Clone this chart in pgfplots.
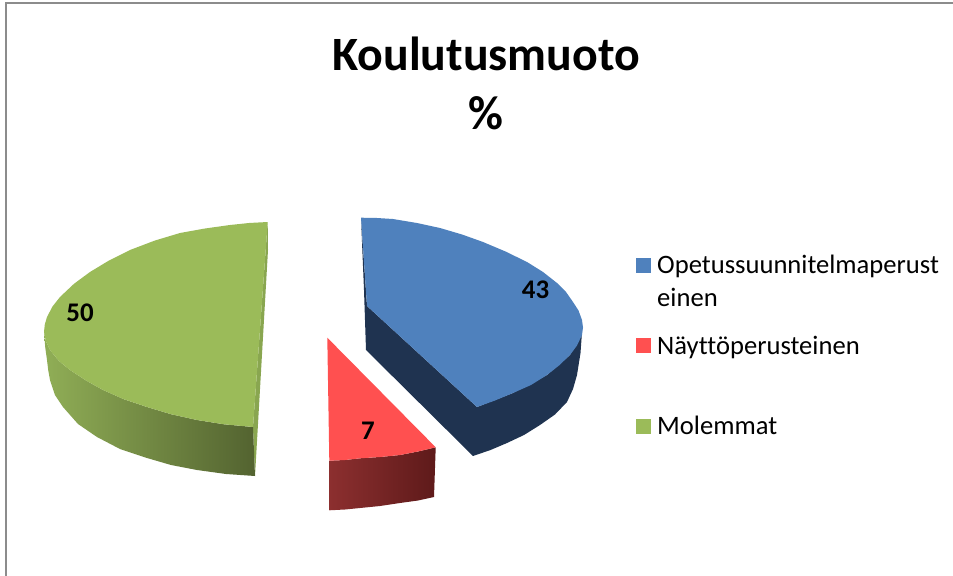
\documentclass[border=0pt]{standalone}
\usepackage{fontspec}
\setmainfont[Ligatures=NoCommon]{Carlito}
\usepackage{pgfplots}
\pgfplotsset{compat=1.18}
\definecolor{pieblue}{HTML}{4F81BD}
\definecolor{pieblueside}{HTML}{1F3350}
\definecolor{piered}{HTML}{FF5050}
\definecolor{pieredL}{HTML}{8C2F2F}
\definecolor{pieredR}{HTML}{5E1A1A}
\definecolor{piegreen}{HTML}{9BBB59}
\definecolor{piegreenL}{HTML}{90AE56}
\definecolor{piegreenR}{HTML}{536330}
\definecolor{piegreenedge}{HTML}{89A650}
\definecolor{framegray}{HTML}{8C8C8C}
\begin{document}
\begin{tikzpicture}
\begin{axis}[
  width=953bp, height=576bp, scale only axis,
  xmin=0, xmax=953, ymin=0, ymax=576, y dir=reverse,
  hide axis, axis background/.style={fill=white},
]
% frame
\addplot[framegray, line width=2bp] coordinates {(6,577) (6,3.5) (954,3.5)};

% green slice (50)
\addplot[fill=piegreenedge, draw=none] coordinates
  {(267.7,222) (268,250) (255,476) (253,427)} -- cycle;
\addplot[left color=piegreenL, right color=piegreenR, draw=none] coordinates
  {(44,332) (46,341.5) (50,350) (59,361) (70,370) (86,380.5) (103,390) (124,399.3)
   (147,407) (171,414.2) (197,420) (224,424.3) (253,427) (255,476)
   (226,474) (197,470) (171,465) (147,458) (120,449) (97,437) (78,424) (63,407)
   (55,395) (50,380) (48.2,370) (47,360) (45.3,348)} -- cycle;
\addplot[fill=piegreen, draw=none] coordinates
  {(267.7,222) (249,223) (230,225) (205,228.5) (180,233) (155,240.5) (130,250)
   (109,260.5) (90,272) (74,283.8) (60,297) (52.5,306.5) (47,317) (44.8,324.5) (44,332)
   (46,341.5) (50,350) (59,361) (70,370) (86,380.5) (103,390) (124,399.3) (147,407)
   (171,414.2) (197,420) (224,424.3) (253,427)} -- cycle;

% blue slice (43)
\addplot[fill=pieblueside, draw=none] coordinates
  {(361,218) (364,290) (366,350) (473,456) (490.5,450) (507,443) (524,435) (540,425)
   (555,414.5) (567,402) (573,389) (577,375) (580.5,353) (582,332)
   (570,355) (547,375) (513,393) (477,407) (367,306)} -- cycle;
\addplot[fill=pieblue, draw=none] coordinates
  {(361,217.7) (377,218) (393,219) (417,223) (440,228) (462,234.5) (483,242) (505.5,251.5)
   (527,262) (543,272) (557,283) (566,292) (573,302) (578.5,310.5) (582,320) (583,327.5)
   (582,335) (577,345.5) (570,355) (559,365.5) (547,375) (531,385) (513,393) (495,400.5)
   (477,407) (367,306)} -- cycle;

% red slice (7)
\addplot[left color=pieredL, right color=pieredR, draw=none] coordinates
  {(329.3,460.7) (345,460) (360,458.3) (380,457) (400,455) (418,451.5) (435.7,447.3)
   (434,497) (418,500.5) (400,503) (380,506) (360,508) (345,509.5) (329.3,510.3)} -- cycle;
\addplot[fill=piered, draw=none] coordinates
  {(327.3,337.7) (435.7,447.3) (418,451.5) (400,455) (380,457) (360,458.3) (345,460) (329.3,460.7)} -- cycle;

% legend keys
\addplot[fill=pieblue, draw=none] coordinates {(636,258) (651,258) (651,273) (636,273)} -- cycle;
\addplot[fill=piered, draw=none] coordinates {(636,338) (651,338) (651,353) (636,353)} -- cycle;
\addplot[fill=piegreen, draw=none] coordinates {(636,419) (651,419) (651,434) (636,434)} -- cycle;

% data labels
\addplot[only marks, mark=none, point meta=explicit symbolic,
  nodes near coords={\pgfplotspointmeta},
  nodes near coords align={anchor=base},
  every node near coord/.append style={inner sep=0pt, font=\bfseries\fontsize{27}{27}\selectfont}]
  coordinates {(535.5,298) [43] (368,439) [7] (80,321) [50]};

% texts
\node[anchor=base, font=\bfseries\fontsize{48}{48}\selectfont] at (axis cs:486,70.5) {Koulutusmuoto};
\node[anchor=base, font=\bfseries\fontsize{48}{48}\selectfont] at (axis cs:486,129) {\%};
\node[anchor=base west, inner sep=0pt, font=\fontsize{26.7}{27}\selectfont] at (axis cs:657,273) {Opetussuunnitelmaperust};
\node[anchor=base west, inner sep=0pt, font=\fontsize{26.7}{27}\selectfont] at (axis cs:657,306) {einen};
\node[anchor=base west, inner sep=0pt, font=\fontsize{26.7}{27}\selectfont] at (axis cs:657,354.5) {Näyttöperusteinen};
\node[anchor=base west, inner sep=0pt, font=\fontsize{26.7}{27}\selectfont] at (axis cs:657,434) {Molemmat};
\end{axis}
\end{tikzpicture}
\end{document}
